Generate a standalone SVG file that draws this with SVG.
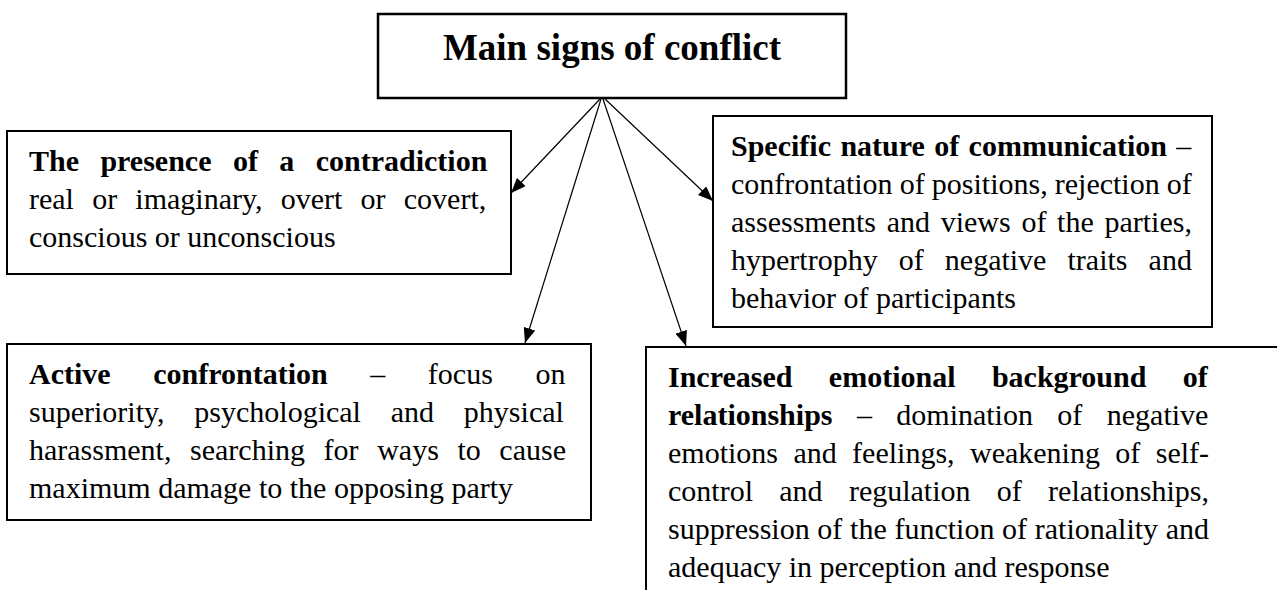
<svg xmlns="http://www.w3.org/2000/svg" width="1277" height="590" viewBox="0 0 1277 590">
  <style>
    .box { fill: #ffffff; stroke: #000000; stroke-width: 2; }
    .head-box { stroke-width: 2.5; }
    .edge { fill: none; stroke: #000000; stroke-width: 2; }
    .t { font-family: "Liberation Serif", "Times New Roman", serif; font-size: 30px; fill: #000000; }
    .b { font-weight: bold; }
    .title { font-family: "Liberation Serif", "Times New Roman", serif; font-size: 37px; font-weight: bold; fill: #000000; }
    .link { fill: none; stroke: #000000; stroke-width: 1.2; marker-end: url(#head); }
  </style>
  <defs>
    <marker id="head" markerUnits="userSpaceOnUse" markerWidth="16" markerHeight="12" refX="15" refY="6" orient="auto">
      <path d="M0,0 L15,6 L0,12 z" fill="#000000"/>
    </marker>
  </defs>
  <rect width="1277" height="590" fill="#ffffff"/>

  <!-- root: title box -->
  <g id="main-signs">
    <rect class="box head-box" x="378" y="14" width="468" height="84"/>
    <text class="title" x="612" y="60" text-anchor="middle">Main signs of conflict</text>
  </g>

  <!-- justified paragraphs: word-spacing stretches each line to the box margin -->
  <g id="contradiction">
    <rect class="box" x="7" y="131" width="504" height="143"/>
    <text class="t b" x="29" y="171" word-spacing="13.9">The presence of a contradiction</text>
    <text class="t" x="29" y="209" word-spacing="10.7">real or imaginary, overt or covert,</text>
    <text class="t" x="29" y="247">conscious or unconscious</text>
  </g>

  <g id="communication">
    <rect class="box" x="713" y="116" width="499" height="211"/>
    <text class="t" x="731" y="156" word-spacing="1.9"><tspan class="b">Specific nature of communication</tspan> –</text>
    <text class="t" x="731" y="194" word-spacing="-0.4">confrontation of positions, rejection of</text>
    <text class="t" x="731" y="232" word-spacing="3.2">assessments and views of the parties,</text>
    <text class="t" x="731" y="270" word-spacing="13.6">hypertrophy of negative traits and</text>
    <text class="t" x="731" y="308">behavior of participants</text>
  </g>

  <g id="confrontation">
    <rect class="box" x="7" y="344" width="584" height="176"/>
    <text class="t" x="29" y="384" word-spacing="35.1"><tspan class="b">Active confrontation</tspan> – focus on</text>
    <text class="t" x="29" y="422" word-spacing="22.3">superiority, psychological and physical</text>
    <text class="t" x="29" y="460" word-spacing="11.1">harassment, searching for ways to cause</text>
    <text class="t" x="29" y="498">maximum damage to the opposing party</text>
  </g>

  <!-- this box runs past the right and bottom edges of the page -->
  <g id="emotional-background">
    <path class="edge" d="M646,591 V347 H1278"/>
    <text class="t b" x="668" y="387" word-spacing="28.9">Increased emotional background of</text>
    <text class="t" x="668" y="425" word-spacing="16.9"><tspan class="b">relationships</tspan> – domination of negative</text>
    <text class="t" x="668" y="463" word-spacing="7.9">emotions and feelings, weakening of self-</text>
    <text class="t" x="668" y="501" word-spacing="18.8">control and regulation of relationships,</text>
    <text class="t" x="668" y="539" word-spacing="0.2">suppression of the function of rationality and</text>
    <text class="t" x="668" y="577">adequacy in perception and response</text>
  </g>

  <g id="connectors">
    <line class="link" x1="600" y1="99" x2="511" y2="193"/>
    <line class="link" x1="601" y1="99" x2="525" y2="343"/>
    <line class="link" x1="603" y1="99" x2="686" y2="346"/>
    <line class="link" x1="605" y1="99" x2="713" y2="201"/>
  </g>
</svg>
